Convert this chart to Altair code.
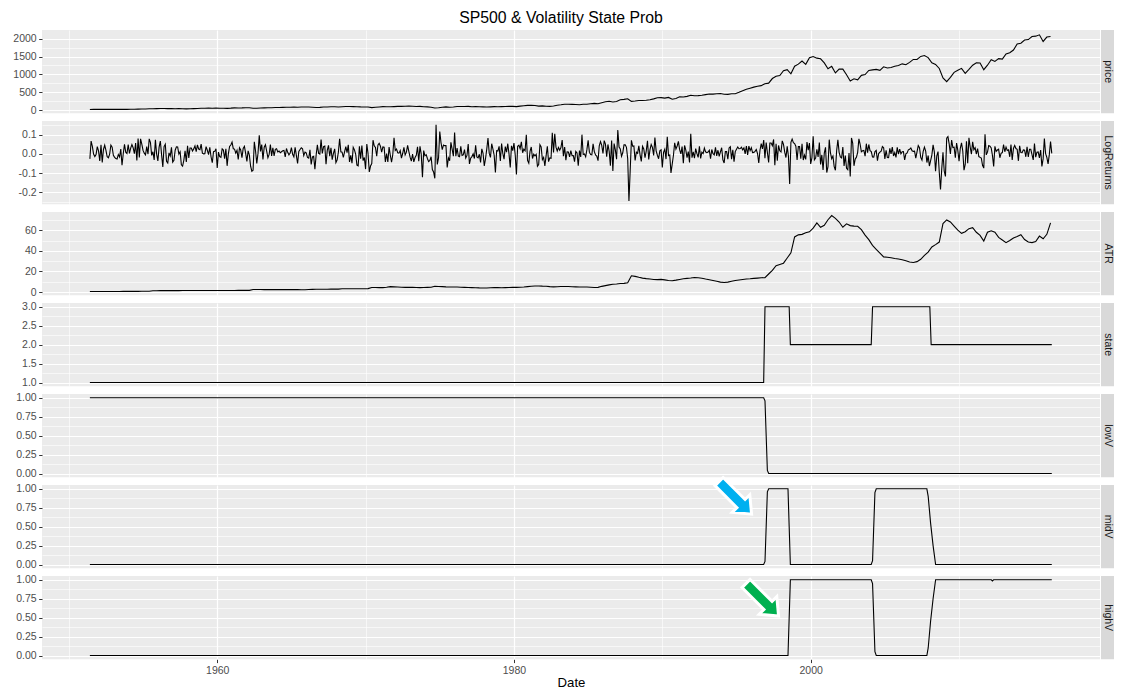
import json
import altair as alt
import pandas as pd

TITLE = "SP500 & Volatility State Prob"
X_TITLE = "Date"
FONT = "Liberation Sans"
panel_names = ["price", "LogReturns", "ATR", "state", "lowV", "midV", "highV"]

# ---------------- x axis (decimal years) ----------------
x_domain = [1948.19, 2019.5]
x_major = [1960, 1980, 2000]
x_major_labels = ["1960", "1980", "2000"]
x_minor = [1950, 1970, 1990, 2010]

# ---------------- price (quarterly, Jun 1951 .. Mar 2016) ----------------
price = [
    21.0, 23.3, 23.8,
    24.4, 25.0, 25.0, 26.6,
    25.3, 24.1, 23.4, 24.8,
    26.9, 29.2, 32.3, 35.9,
    36.6, 41.0, 43.7, 45.5,
    48.5, 46.9, 45.4, 46.7,
    44.1, 47.4, 42.4, 39.9,
    42.1, 45.2, 50.1, 55.2,
    55.4, 58.5, 56.9, 59.9,
    55.3, 56.9, 53.5, 58.1,
    65.1, 64.6, 66.7, 71.6,
    69.6, 54.8, 56.3, 63.1,
    66.6, 69.4, 71.7, 75.0,
    78.9, 81.7, 84.2, 84.8,
    86.2, 84.1, 89.9, 92.4,
    89.2, 84.7, 76.6, 80.3,
    90.2, 90.6, 96.7, 96.5,
    90.2, 99.6, 102.7, 103.9,
    101.5, 97.7, 93.1, 92.1,
    89.6, 72.7, 84.2, 92.2,
    100.3, 99.0, 98.3, 102.1,
    107.2, 107.1, 110.6, 118.1,
    112.0, 104.3, 108.4, 97.6,
    94.0, 86.0, 63.5, 68.6,
    83.4, 95.2, 83.9, 90.2,
    102.8, 104.3, 105.2, 107.5,
    98.4, 100.5, 96.5, 95.1,
    89.2, 95.5, 102.5, 96.1,
    101.6, 102.9, 109.3, 107.9,
    102.1, 114.2, 125.5, 135.8,
    136.0, 131.2, 116.2, 122.6,
    112.0, 109.6, 120.4, 140.6,
    153.0, 168.1, 166.1, 164.9,
    159.2, 153.2, 166.1, 167.2,
    180.7, 191.9, 182.1, 211.3,
    238.9, 250.8, 231.3, 242.2,
    291.7, 304.0, 321.8, 247.1,
    258.9, 273.5, 271.9, 277.7,
    294.9, 318.0, 349.2, 353.4,
    339.9, 358.0, 306.1, 330.2,
    375.2, 371.2, 387.9, 417.1,
    403.7, 408.1, 417.8, 435.7,
    451.7, 450.5, 458.9, 466.5,
    445.8, 444.3, 462.7, 459.3,
    500.7, 544.8, 584.4, 615.9,
    645.5, 670.6, 687.3, 740.7,
    757.1, 885.1, 947.3, 970.4,
    1101.8, 1133.8, 1017.0, 1229.2,
    1286.4, 1372.7, 1282.7, 1469.3,
    1498.6, 1454.6, 1436.5, 1320.3,
    1160.3, 1224.4, 1040.9, 1148.1,
    1147.4, 989.8, 815.3, 879.8,
    848.2, 974.5, 996.0, 1111.9,
    1126.2, 1140.8, 1114.6, 1211.9,
    1180.6, 1191.3, 1228.8, 1248.3,
    1294.8, 1270.2, 1335.9, 1418.3,
    1420.9, 1503.4, 1526.8, 1468.4,
    1322.7, 1280.0, 1166.4, 903.3,
    797.9, 919.3, 1057.1, 1115.1,
    1169.4, 1030.7, 1141.2, 1257.6,
    1325.8, 1320.6, 1131.4, 1257.6,
    1408.5, 1362.2, 1440.7, 1426.2,
    1569.2, 1606.3, 1681.6, 1848.4,
    1872.3, 1960.2, 1972.3, 2058.9,
    2067.9, 2105.0, 1920.0, 2043.9,
    2059.7,
]
price_ticks = [0, 500, 1000, 1500, 2000]
price_tick_labels = ["0", "500", "1000", "1500", "2000"]
price_minor = [250, 750, 1250, 1750]
price_domain = [-85, 2240]

# ---------------- monthly log returns, Jun 1951 .. Apr 2016 ----------------
logret_by_year = [
    [-0.026, 0.067, 0.039, -0.001, -0.014, -0.003, 0.038],
    [0.016, -0.037, 0.047, -0.044, 0.023, 0.045, 0.018, -0.015, -0.020, -0.001, 0.046, 0.035],
    [-0.007, -0.018, -0.024, -0.027, -0.003, -0.016, 0.025, -0.059, 0.001, 0.050, 0.009, 0.002],
    [0.049, 0.003, 0.030, 0.048, 0.032, 0.001, 0.056, -0.034, 0.080, -0.019, 0.078, 0.051],
    [0.018, 0.004, -0.005, 0.038, -0.001, 0.078, 0.059, -0.008, 0.011, -0.031, 0.073, -0.001],
    [-0.037, 0.035, 0.067, -0.004, -0.068, 0.038, 0.050, -0.038, -0.047, 0.005, -0.011, 0.034],
    [-0.043, -0.033, 0.019, 0.037, 0.036, -0.001, 0.011, -0.057, -0.064, -0.033, 0.016, -0.042],
    [0.042, -0.021, 0.031, 0.031, 0.015, 0.026, 0.042, 0.012, 0.047, 0.025, 0.022, 0.051],
    [0.004, -0.000, 0.001, 0.038, 0.019, -0.004, 0.034, -0.015, -0.046, 0.011, 0.013, 0.027],
    [-0.073, 0.009, -0.014, -0.018, 0.026, 0.020, -0.025, 0.026, -0.062, -0.000, 0.039, 0.046],
    [0.061, 0.027, 0.025, 0.004, 0.019, -0.029, 0.032, 0.020, -0.020, 0.028, 0.039, 0.003],
    [-0.039, 0.016, -0.006, -0.064, -0.090, -0.085, 0.063, 0.015, -0.050, 0.004, 0.097, 0.013],
    [0.048, -0.029, 0.035, 0.048, 0.014, -0.020, -0.003, 0.048, -0.011, 0.032, -0.011, 0.024],
    [0.027, 0.010, 0.015, 0.006, 0.011, 0.016, 0.018, -0.016, 0.028, 0.008, -0.005, 0.004],
    [0.033, -0.002, -0.015, 0.034, -0.008, -0.050, 0.013, 0.023, 0.032, 0.027, -0.009, 0.009],
    [0.005, -0.018, -0.022, 0.021, -0.055, -0.016, -0.013, -0.080, -0.007, 0.047, 0.003, -0.001],
    [0.075, 0.002, 0.038, 0.041, -0.054, 0.018, 0.044, -0.012, 0.032, -0.030, 0.003, 0.026],
    [-0.045, -0.031, 0.009, 0.079, 0.011, 0.009, -0.018, 0.011, 0.038, 0.007, 0.047, -0.042],
    [-0.008, -0.048, 0.034, 0.021, -0.002, -0.058, -0.062, 0.040, -0.025, 0.043, -0.035, -0.019],
    [-0.079, 0.051, 0.001, -0.094, -0.063, -0.050, 0.071, 0.042, 0.033, -0.012, 0.046, 0.055],
    [0.040, 0.009, 0.036, 0.035, -0.042, 0.001, -0.042, 0.035, -0.007, -0.043, -0.003, 0.084],
    [0.018, 0.025, 0.006, 0.004, 0.017, -0.022, 0.002, 0.034, -0.005, 0.009, 0.044, 0.012],
    [-0.017, -0.038, -0.001, -0.042, -0.019, -0.007, 0.037, -0.038, 0.039, -0.001, -0.121, 0.017],
    [-0.010, -0.004, -0.024, -0.040, -0.034, -0.015, -0.081, -0.094, -0.127, 0.151, -0.055, -0.021],
    [0.116, 0.058, 0.022, 0.046, 0.043, 0.043, -0.070, -0.021, -0.036, 0.060, 0.025, -0.012],
    [0.111, -0.012, 0.030, -0.011, -0.014, 0.040, -0.008, -0.005, 0.022, -0.022, -0.008, 0.051],
    [-0.052, -0.022, -0.014, 0.000, -0.024, 0.045, -0.016, -0.021, -0.002, -0.044, 0.026, 0.003],
    [-0.063, -0.025, 0.025, 0.082, 0.004, -0.018, 0.053, 0.025, -0.007, -0.096, 0.017, 0.015],
    [0.039, -0.037, 0.054, 0.002, -0.027, 0.038, 0.009, 0.053, 0.000, -0.071, 0.042, 0.017],
    [0.056, -0.004, -0.107, 0.040, 0.045, 0.027, 0.063, 0.006, 0.025, 0.016, 0.099, -0.034],
    [-0.048, 0.013, 0.036, -0.024, -0.002, -0.010, -0.002, -0.064, -0.055, 0.048, 0.036, -0.030],
    [-0.018, -0.062, -0.010, 0.040, -0.040, -0.021, -0.023, 0.110, 0.008, 0.105, 0.035, 0.015],
    [0.033, 0.019, 0.033, 0.072, -0.012, 0.035, -0.033, 0.011, 0.010, -0.015, 0.017, -0.009],
    [-0.009, -0.040, 0.013, 0.005, -0.061, 0.017, -0.016, 0.100, -0.003, 0.000, -0.015, 0.022],
    [0.071, 0.009, -0.003, -0.005, 0.052, 0.012, -0.005, -0.012, -0.035, 0.042, 0.064, 0.044],
    [0.002, 0.069, 0.051, -0.014, 0.049, 0.014, -0.061, 0.069, -0.089, 0.054, 0.021, -0.028],
    [0.124, 0.036, 0.026, -0.012, 0.006, 0.047, 0.047, 0.034, -0.025, -0.245, -0.089, 0.071],
    [0.040, 0.041, -0.034, 0.009, 0.003, 0.042, -0.005, -0.039, 0.039, 0.026, -0.019, 0.015],
    [0.068, -0.029, 0.021, 0.049, 0.034, -0.008, 0.085, 0.016, -0.007, -0.025, 0.016, 0.021],
    [-0.071, 0.008, 0.024, -0.027, 0.089, -0.009, -0.005, -0.099, -0.053, -0.007, 0.058, 0.025],
    [0.041, 0.065, 0.022, 0.000, 0.038, -0.049, 0.044, 0.020, -0.019, 0.012, -0.045, 0.105],
    [-0.020, 0.010, -0.022, 0.028, 0.001, -0.018, 0.039, -0.024, 0.009, 0.002, 0.030, 0.010],
    [0.007, 0.010, 0.019, -0.025, 0.023, 0.001, -0.005, 0.034, -0.010, 0.019, -0.013, 0.010],
    [0.032, -0.031, -0.047, 0.012, 0.012, -0.027, 0.031, 0.037, -0.027, 0.021, -0.040, 0.012],
    [0.024, 0.036, 0.027, 0.028, 0.035, 0.021, 0.031, -0.000, 0.040, -0.005, 0.040, 0.017],
    [0.032, 0.007, 0.008, 0.013, 0.023, 0.002, -0.047, 0.019, 0.053, 0.026, 0.072, -0.022],
    [0.059, 0.006, -0.044, 0.057, 0.057, 0.043, 0.075, -0.059, 0.052, -0.035, 0.044, 0.016],
    [0.010, 0.068, 0.049, 0.009, -0.019, 0.039, -0.012, -0.157, 0.060, 0.077, 0.058, 0.054],
    [0.040, -0.032, 0.038, 0.038, -0.025, 0.053, -0.032, -0.006, -0.029, 0.061, 0.019, 0.056],
    [-0.052, -0.020, 0.092, -0.031, -0.022, 0.024, -0.016, 0.059, -0.055, -0.005, -0.083, 0.004],
    [0.034, -0.097, -0.066, 0.074, 0.005, -0.025, -0.011, -0.066, -0.085, 0.018, 0.073, 0.008],
    [-0.016, -0.021, 0.036, -0.063, -0.009, -0.075, -0.082, 0.005, -0.117, 0.083, 0.055, -0.062],
    [-0.027, -0.017, 0.008, 0.078, 0.050, 0.011, 0.016, 0.018, -0.012, 0.053, 0.007, 0.049],
    [0.017, 0.012, -0.016, -0.017, 0.012, 0.018, -0.035, 0.002, 0.009, 0.014, 0.038, 0.032],
    [-0.026, 0.019, -0.019, -0.020, 0.029, -0.000, 0.035, -0.011, 0.007, -0.018, 0.034, -0.001],
    [0.025, 0.000, 0.011, 0.012, -0.031, 0.000, 0.005, 0.021, 0.024, 0.031, 0.016, 0.013],
    [0.014, -0.022, 0.010, 0.043, 0.032, -0.018, -0.032, 0.013, 0.035, 0.015, -0.045, -0.009],
    [-0.063, -0.035, -0.006, 0.047, 0.011, -0.090, -0.010, 0.012, -0.095, -0.185, -0.078, 0.008],
    [-0.089, -0.117, 0.082, 0.090, 0.052, 0.000, 0.072, 0.033, 0.035, -0.020, 0.056, 0.018],
    [-0.038, 0.029, 0.057, 0.015, -0.085, -0.055, 0.066, -0.049, 0.084, 0.036, -0.002, 0.063],
    [0.022, 0.032, -0.001, 0.028, -0.014, -0.018, -0.022, -0.059, -0.074, 0.102, -0.005, 0.009],
    [0.043, 0.040, 0.031, -0.008, -0.065, 0.039, 0.013, 0.020, 0.024, -0.020, 0.003, 0.007],
    [0.049, 0.011, 0.035, 0.018, 0.021, -0.015, 0.048, -0.032, 0.029, 0.044, 0.028, 0.024],
    [-0.036, 0.042, 0.007, 0.006, 0.021, 0.019, -0.015, 0.037, -0.016, 0.024, 0.024, -0.004],
    [-0.031, 0.054, -0.017, 0.009, 0.010, -0.021, 0.020, -0.065, -0.026, 0.080, 0.001, -0.018],
    [-0.052, -0.004, 0.064, 0.003],
]
logret_ticks = [-0.2, -0.1, 0.0, 0.1]
logret_tick_labels = ["-0.2", "-0.1", "0.0", "0.1"]
logret_minor = [-0.25, -0.15, -0.05, 0.05, 0.15]
logret_domain = [-0.262, 0.171]

# ---------------- ATR (quarterly, Jun 1951 .. Mar 2016) ----------------
atr = [
    0.5, 0.5, 0.5,
    0.5, 0.5, 0.5, 0.5,
    0.5, 0.5, 0.6, 0.6,
    0.6, 0.6, 0.6, 0.7,
    0.7, 0.8, 1.2, 1.2,
    1.3, 1.3, 1.3, 1.3,
    1.3, 1.3, 1.4, 1.4,
    1.4, 1.4, 1.4, 1.4,
    1.4, 1.4, 1.5, 1.5,
    1.5, 1.5, 1.5, 1.5,
    1.5, 1.6, 1.6, 1.6,
    1.6, 2.4, 2.5, 2.4,
    2.3, 2.3, 2.3, 2.3,
    2.3, 2.3, 2.3, 2.3,
    2.3, 2.4, 2.2, 2.2,
    2.5, 2.6, 2.7, 2.7,
    2.7, 2.7, 2.8, 2.8,
    2.8, 3.1, 3.1, 3.1,
    3.1, 3.1, 3.2, 3.2,
    3.3, 4.4, 4.4, 4.3,
    4.3, 4.6, 5.2, 5.0,
    4.8, 4.6, 4.5, 4.5,
    4.6, 4.4, 4.3, 4.4,
    4.5, 4.6, 5.6, 5.4,
    5.2, 5.0, 4.9, 4.8,
    4.8, 4.6, 4.5, 4.4,
    4.3, 4.2, 4.0, 3.9,
    3.9, 4.2, 4.4, 4.3,
    4.2, 4.3, 4.4, 4.5,
    4.5, 4.6, 4.8, 5.2,
    5.6, 5.8, 5.9, 5.7,
    5.6, 5.2, 5.0, 5.1,
    5.3, 5.4, 5.3, 5.1,
    5.0, 4.9, 4.9, 4.8,
    4.6, 4.4, 4.5, 5.5,
    6.2, 6.9, 7.5, 7.8,
    8.2, 8.4, 9.0, 15.8,
    15.2, 14.3, 13.5, 13.0,
    12.6, 12.2, 12.0, 12.3,
    11.8, 11.2, 10.9, 11.5,
    12.2, 12.8, 13.2, 13.6,
    14.1, 13.8, 13.4, 12.6,
    11.9, 11.2, 10.4, 9.6,
    9.3, 9.6, 10.4, 11.1,
    11.6, 12.1, 12.6, 12.8,
    13.2, 13.5, 13.8, 14.0,
    17.5, 21.0, 25.5, 26.8,
    28.0, 33.0, 38.0, 53.5,
    55.5, 56.0, 57.5, 58.5,
    62.0, 67.1, 62.9, 64.8,
    70.2, 74.2, 71.5, 68.0,
    62.9, 66.2, 64.5, 64.0,
    63.8, 60.5, 55.3, 50.8,
    45.3, 41.5, 37.8, 34.1,
    33.8, 33.2, 32.5, 32.1,
    31.4, 30.3, 29.2, 28.6,
    29.5, 31.8, 35.5, 38.7,
    43.7, 46.0, 48.5, 66.5,
    70.0, 68.0, 64.0, 60.0,
    57.0, 58.5, 61.5, 62.5,
    58.0, 55.0, 49.5, 58.0,
    59.5, 58.0, 53.0, 50.5,
    47.9, 50.0, 52.5, 54.0,
    55.6, 51.0, 48.5, 48.0,
    49.0, 54.3, 51.7, 56.0,
    67.1,
]
atr_ticks = [0, 20, 40, 60]
atr_tick_labels = ["0", "20", "40", "60"]
atr_minor = [10, 30, 50, 70]
atr_domain = [-3.2, 77.7]

# ---------------- state and state probabilities (change points) ----------------
state_years = [1951.417, 1996.83, 1996.92, 1998.55, 1998.63, 2004.08, 2004.17, 2008.03, 2008.12, 2016.25]
state_values = [1, 1, 3, 3, 2, 2, 3, 3, 2, 2]
state_ticks = [1.0, 1.5, 2.0, 2.5, 3.0]
state_tick_labels = ["1.0", "1.5", "2.0", "2.5", "3.0"]
state_minor = [1.25, 1.75, 2.25, 2.75]
state_domain = [0.9, 3.1]

lowV_years = [1951.417, 1996.83, 1996.92, 1997.08, 1997.17, 2016.25]
lowV_values = [1, 1, 0.96, 0.04, 0, 0]

midV_years = [1951.417, 1996.83, 1996.92, 1997.08, 1997.17, 1998.47, 1998.55, 1998.63,
              2004.08, 2004.17, 2004.33, 2004.42, 2007.83, 2007.92, 2008.08, 2008.25,
              2008.42, 2016.25]
midV_values = [0, 0, 0.04, 0.96, 1, 1, 0.5, 0, 0, 0.05, 0.95, 1, 1, 0.9, 0.55, 0.25, 0, 0]

highV_years = [1951.417, 1998.47, 1998.55, 1998.63, 2004.08, 2004.17, 2004.33, 2004.42,
               2007.83, 2007.92, 2008.08, 2008.25, 2008.42, 2012.17, 2012.25, 2012.33, 2016.25]
highV_values = [0, 0, 0.5, 1, 1, 0.95, 0.05, 0, 0, 0.1, 0.45, 0.75, 1, 1, 0.985, 1, 1]

prob_ticks = [0.0, 0.25, 0.5, 0.75, 1.0]
prob_tick_labels = ["0.00", "0.25", "0.50", "0.75", "1.00"]
prob_minor = [0.125, 0.375, 0.625, 0.875]
prob_domain = [-0.05, 1.05]

# ---------------- annotation arrows ----------------
arrow_panels = ["midV", "highV"]
arrow_years = [1994.92, 1996.74]
arrow_values = [0.88, 0.736]
arrow_colors = ["#00B0F0", "#00B050"]
ARROW_PATH = "M-1,-0.25L0.35,-0.25L0.35,-0.54L1,0L0.35,0.54L0.35,0.25L-1,0.25Z"

# ---------------- build ----------------
W, H = 1058, 83.3
STRIP = 14


def month_grid(n):
    return [1951 + (5 + i) / 12 for i in range(n)]


def quarter_grid(n):
    return [1951 + 5 / 12 + 0.25 * i for i in range(n)]


logret = [v for row in logret_by_year for v in row]

frames = {
    "price": pd.DataFrame({"year": quarter_grid(len(price)), "value": price}),
    "LogReturns": pd.DataFrame({"year": month_grid(len(logret)), "value": logret}),
    "ATR": pd.DataFrame({"year": quarter_grid(len(atr)), "value": atr}),
    "state": pd.DataFrame({"year": state_years, "value": state_values}),
    "lowV": pd.DataFrame({"year": lowV_years, "value": lowV_values}),
    "midV": pd.DataFrame({"year": midV_years, "value": midV_values}),
    "highV": pd.DataFrame({"year": highV_years, "value": highV_values}),
}
yspec = {
    "price": (price_ticks, price_tick_labels, price_minor, price_domain),
    "LogReturns": (logret_ticks, logret_tick_labels, logret_minor, logret_domain),
    "ATR": (atr_ticks, atr_tick_labels, atr_minor, atr_domain),
    "state": (state_ticks, state_tick_labels, state_minor, state_domain),
    "lowV": (prob_ticks, prob_tick_labels, prob_minor, prob_domain),
    "midV": (prob_ticks, prob_tick_labels, prob_minor, prob_domain),
    "highV": (prob_ticks, prob_tick_labels, prob_minor, prob_domain),
}


def cond_props(major, labels):
    m = json.dumps(major)
    minor_test = f"indexof({m}, datum.value) < 0"
    label_expr = f"{minor_test} ? '' : {json.dumps(labels)}[indexof({m}, datum.value)]"
    grid_w = {"condition": {"test": minor_test, "value": 0.6}, "value": 1.2}
    tick_o = {"condition": {"test": minor_test, "value": 0}, "value": 1}
    return label_expr, grid_w, tick_o


panels = []
for idx, name in enumerate(panel_names):
    bottom = idx == len(panel_names) - 1
    xl, xg, xt = cond_props(x_major, x_major_labels)
    if bottom:
        xaxis = alt.Axis(values=x_major + x_minor, labelExpr=xl, gridWidth=xg,
                         tickOpacity=xt, title=X_TITLE, domain=False)
    else:
        xaxis = alt.Axis(values=x_major + x_minor, gridWidth=xg, labels=False,
                         ticks=False, domain=False, title=None)
    X = alt.X("year:Q", scale=alt.Scale(domain=x_domain, nice=False, zero=False), axis=xaxis)

    ticks, tlabels, minor, dom = yspec[name]
    yl, yg, yt = cond_props(ticks, tlabels)
    vals = [v for v in ticks + minor if dom[0] <= v <= dom[1]]
    yaxis = alt.Axis(values=vals, labelExpr=yl, gridWidth=yg, tickOpacity=yt,
                     title=None, domain=False, minExtent=34, maxExtent=34)
    Y = alt.Y("value:Q", scale=alt.Scale(domain=dom, nice=False, zero=False), axis=yaxis)

    line = alt.Chart(frames[name]).mark_line(color="black", strokeWidth=1.1).encode(x=X, y=Y)

    strip_df = pd.DataFrame({"label": [name]})
    strip_rect = alt.Chart(strip_df).mark_rect(fill="#D9D9D9").encode(
        x=alt.value(W + 1), x2=alt.value(W + STRIP), y=alt.value(0), y2=alt.value(H))
    strip_text = alt.Chart(strip_df).mark_text(
        angle=90, fontSize=10.5, color="#1A1A1A", font=FONT, align="center", baseline="middle"
    ).encode(x=alt.value(W + 1 + (STRIP - 1) / 2), y=alt.value(H / 2), text="label:N")

    layers = [line, strip_rect, strip_text]
    for pn, ay, av, ac in zip(arrow_panels, arrow_years, arrow_values, arrow_colors):
        if pn == name:
            adf = pd.DataFrame({"year": [ay], "value": [av]})
            layers.append(
                alt.Chart(adf).mark_point(
                    shape=ARROW_PATH, filled=True, fill=ac, stroke="white", strokeWidth=3,
                    size=2116, angle=45, opacity=1, fillOpacity=1, strokeOpacity=1,
                    strokeJoin="miter",
                ).encode(x=X, y=Y)
            )
    panels.append(alt.layer(*layers).properties(width=W, height=H))

chart = (
    alt.vconcat(*panels, spacing=7, bounds="flush")
    .resolve_scale(x="independent", y="independent")
    .properties(
        title=alt.TitleParams(TITLE, fontSize=15.8, font=FONT, fontWeight="normal",
                              color="black", anchor="middle", offset=3),
        padding={"left": 0, "top": 2, "right": 0, "bottom": 0},
        background="white",
    )
    .configure_view(fill="#EBEBEB", stroke=None)
    .configure_axis(
        gridColor="white", tickColor="#333333", tickSize=3.3, tickWidth=1,
        labelPadding=2.5, labelColor="#4D4D4D", labelFontSize=10.5, labelFont=FONT,
        titleFont=FONT, titleFontSize=13.2, titleFontWeight="normal", titleColor="black",
        titlePadding=1,
    )
)

chart.save("out.html", embed_options={"renderer": "svg", "actions": False})
